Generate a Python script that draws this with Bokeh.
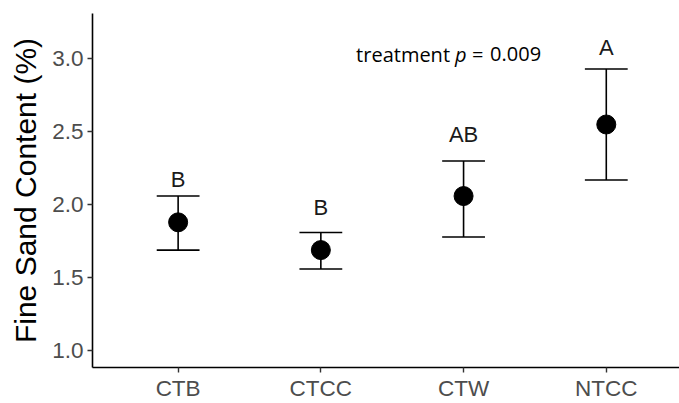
from bokeh.plotting import figure
from bokeh.models import Range1d, FixedTicker, ColumnDataSource
from bokeh.core.properties import value
from bokeh.embed import file_html
from bokeh.resources import INLINE

categories = ["CTB", "CTCC", "CTW", "NTCC"]
means = [1.88, 1.69, 2.06, 2.55]
upper = [2.06, 1.81, 2.30, 2.93]
lower = [1.69, 1.56, 1.78, 2.17]
letters = ["B", "B", "AB", "A"]
letter_y = [2.175, 1.985, 2.48, 3.08]
y_ticks = [1.0, 1.5, 2.0, 2.5, 3.0]

xpos = [i + 1 for i in range(len(categories))]
cap = 0.15

src = ColumnDataSource(dict(
    x=xpos, m=means, u=upper, l=lower,
    xl=[x - cap for x in xpos], xr=[x + cap for x in xpos],
    lab=letters, ly=letter_y,
))

p = figure(width=679, height=403, output_backend="svg", toolbar_location=None,
           x_range=Range1d(0.4, 4.513), y_range=Range1d(0.886, 3.31),
           min_border_left=92, min_border_right=0, min_border_top=13, min_border_bottom=34)
p.outline_line_color = None
p.grid.visible = False
p.background_fill_color = "white"
p.border_fill_color = "white"

# error bars
p.segment(x0="x", y0="l", x1="x", y1="u", source=src, line_color="black", line_width=1.6)
p.segment(x0="xl", y0="u", x1="xr", y1="u", source=src, line_color="black", line_width=1.6)
p.segment(x0="xl", y0="l", x1="xr", y1="l", source=src, line_color="black", line_width=1.6)
p.scatter(x="x", y="m", source=src, size=19, color="black")

# letters
p.text(x="x", y="ly", text="lab", source=src, text_align="center", text_baseline="middle",
       text_font=value("Liberation Sans"), text_font_size="22px", text_color="#1a1a1a")

# annotation "treatment p = 0.009"
ax = 2.247
ay = 3.03
fs = "20px"
p.text(x=[ax], y=[ay], text=["treatment"], text_align="left", text_baseline="middle",
       text_font=value("Open Sans"), text_font_size=fs, text_color="black")
p.text(x=[ax], y=[ay], text=["p"], x_offset=99, text_align="left", text_baseline="middle",
       text_font=value("Open Sans"), text_font_size=fs, text_font_style="italic",
       text_color="black")
p.text(x=[ax], y=[ay], text=["="], x_offset=116, text_align="left", text_baseline="middle",
       text_font=value("Open Sans"), text_font_size=fs, text_color="black")
p.text(x=[ax], y=[ay], text=["0.009"], x_offset=134, text_align="left", text_baseline="middle",
       text_font=value("Open Sans"), text_font_size=fs, text_color="black")

# axes
p.xaxis.ticker = FixedTicker(ticks=xpos)
p.xaxis.major_label_overrides = {x: c for x, c in zip(xpos, categories)}
p.yaxis.ticker = FixedTicker(ticks=y_ticks)
p.yaxis.formatter.use_scientific = False
p.yaxis.major_label_overrides = {t: f"{t:.1f}" for t in y_ticks}

for ax_ in (p.xaxis, p.yaxis):
    ax_.axis_line_color = "black"
    ax_.axis_line_width = 1.6
    ax_.major_tick_line_color = "#333333"
    ax_.major_tick_line_width = 1.4
    ax_.major_tick_out = 5
    ax_.major_tick_in = 0
    ax_.minor_tick_line_color = None
    ax_.major_label_text_font = "Liberation Sans"
    ax_.major_label_text_font_size = "22.5px"
    ax_.major_label_text_color = "#4d4d4d"
    ax_.major_label_standoff = 4

p.xaxis.major_label_standoff = 3

p.yaxis.axis_label = "Fine Sand Content (%)"
p.yaxis.axis_label_text_font = "Liberation Sans"
p.yaxis.axis_label_text_font_size = "30px"
p.yaxis.axis_label_text_font_style = "normal"
p.yaxis.axis_label_text_color = "black"
p.yaxis.axis_label_standoff = 7

open("out.html", "w").write(file_html(p, INLINE))
